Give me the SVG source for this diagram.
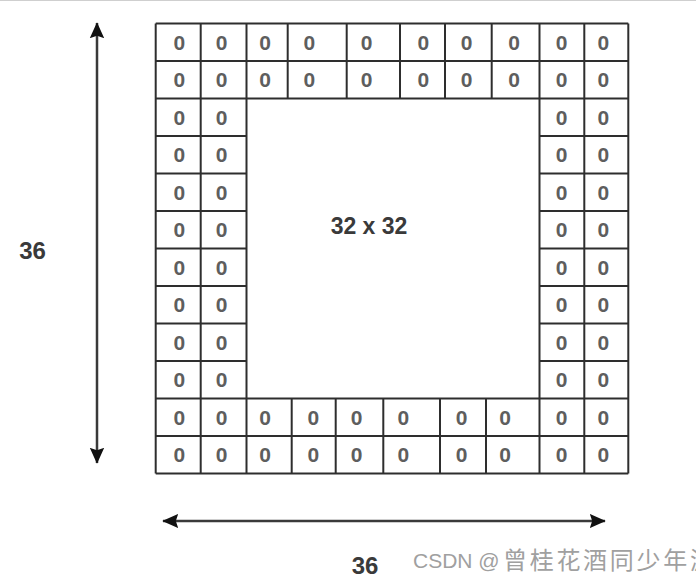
<svg xmlns="http://www.w3.org/2000/svg" width="696" height="581" viewBox="0 0 696 581">
  <defs>
    <marker id="ah" viewBox="0 0 10 10" refX="9.5" refY="5" markerWidth="16" markerHeight="16" markerUnits="userSpaceOnUse" orient="auto-start-reverse">
      <path d="M0,0.5 L10,5 L0,9.5 L1.5,5 Z" fill="#111"/>
    </marker>
    <style>
      .grid { fill: none; stroke: #2e2e2e; stroke-width: 2; }
      .z { font-family: "Liberation Sans", Arial, sans-serif; font-size: 21px; font-weight: bold; fill: #5e5e5e; text-anchor: middle; }
      .lbl { font-family: "Liberation Sans", Arial, sans-serif; font-weight: bold; fill: #3a3a3a; text-anchor: middle; }
      .arrow { stroke: #3a3a3a; stroke-width: 2.5; fill: none; }
      .wm { font-family: "Liberation Sans", "Noto Sans CJK SC", sans-serif; fill: #a0a0a0; }
    </style>
  </defs>
  <rect x="0" y="0" width="696" height="581" fill="#ffffff"/>
  <line x1="0" y1="0.5" x2="696" y2="0.5" stroke="#cfcfcf" stroke-width="1"/>

  <g id="grid">
    <path class="grid" d="
      M155.7,23.5 H628.3 M155.7,61 H628.3 M155.7,98.5 H628.3
      M155.7,398.5 H628.3 M155.7,436 H628.3 M155.7,473.5 H628.3
      M155.7,136 H246.5 M155.7,173.5 H246.5 M155.7,211 H246.5 M155.7,248.5 H246.5 M155.7,286 H246.5 M155.7,323.5 H246.5 M155.7,361 H246.5
      M539.5,136 H628.3 M539.5,173.5 H628.3 M539.5,211 H628.3 M539.5,248.5 H628.3 M539.5,286 H628.3 M539.5,323.5 H628.3 M539.5,361 H628.3
      M155.7,23.5 V473.5 M200.7,23.5 V473.5 M246.5,23.5 V473.5 M539.5,23.5 V473.5 M584.3,23.5 V473.5 M628.3,23.5 V473.5
      M287.7,23.5 V98.5 M346.7,23.5 V98.5 M400,23.5 V98.5 M445,23.5 V98.5 M491.7,23.5 V98.5
      M291.7,398.5 V473.5 M335.7,398.5 V473.5 M383.3,398.5 V473.5 M440,398.5 V473.5 M486,398.5 V473.5"/>
  </g>

  <g id="zeros-top">
    <text class="z" x="179.3" y="49.5">0</text><text class="z" x="221.7" y="49.5">0</text><text class="z" x="265" y="49.5">0</text><text class="z" x="309.3" y="49.5">0</text><text class="z" x="366.7" y="49.5">0</text><text class="z" x="423.3" y="49.5">0</text><text class="z" x="466.7" y="49.5">0</text><text class="z" x="514" y="49.5">0</text><text class="z" x="561.7" y="49.5">0</text><text class="z" x="603.3" y="49.5">0</text>
    <text class="z" x="179.3" y="87">0</text><text class="z" x="221.7" y="87">0</text><text class="z" x="265" y="87">0</text><text class="z" x="309.3" y="87">0</text><text class="z" x="366.7" y="87">0</text><text class="z" x="423.3" y="87">0</text><text class="z" x="466.7" y="87">0</text><text class="z" x="514" y="87">0</text><text class="z" x="561.7" y="87">0</text><text class="z" x="603.3" y="87">0</text>
  </g>

  <g id="zeros-left">
    <text class="z" x="179.3" y="124.5">0</text><text class="z" x="221.7" y="124.5">0</text>
    <text class="z" x="179.3" y="162">0</text><text class="z" x="221.7" y="162">0</text>
    <text class="z" x="179.3" y="199.5">0</text><text class="z" x="221.7" y="199.5">0</text>
    <text class="z" x="179.3" y="237">0</text><text class="z" x="221.7" y="237">0</text>
    <text class="z" x="179.3" y="274.5">0</text><text class="z" x="221.7" y="274.5">0</text>
    <text class="z" x="179.3" y="312">0</text><text class="z" x="221.7" y="312">0</text>
    <text class="z" x="179.3" y="349.5">0</text><text class="z" x="221.7" y="349.5">0</text>
    <text class="z" x="179.3" y="387">0</text><text class="z" x="221.7" y="387">0</text>
  </g>

  <g id="zeros-right">
    <text class="z" x="561.7" y="124.5">0</text><text class="z" x="603.3" y="124.5">0</text>
    <text class="z" x="561.7" y="162">0</text><text class="z" x="603.3" y="162">0</text>
    <text class="z" x="561.7" y="199.5">0</text><text class="z" x="603.3" y="199.5">0</text>
    <text class="z" x="561.7" y="237">0</text><text class="z" x="603.3" y="237">0</text>
    <text class="z" x="561.7" y="274.5">0</text><text class="z" x="603.3" y="274.5">0</text>
    <text class="z" x="561.7" y="312">0</text><text class="z" x="603.3" y="312">0</text>
    <text class="z" x="561.7" y="349.5">0</text><text class="z" x="603.3" y="349.5">0</text>
    <text class="z" x="561.7" y="387">0</text><text class="z" x="603.3" y="387">0</text>
  </g>

  <g id="zeros-bottom">
    <text class="z" x="179.3" y="424.5">0</text><text class="z" x="221.7" y="424.5">0</text><text class="z" x="265" y="424.5">0</text><text class="z" x="313.3" y="424.5">0</text><text class="z" x="356.7" y="424.5">0</text><text class="z" x="403.3" y="424.5">0</text><text class="z" x="461.7" y="424.5">0</text><text class="z" x="505" y="424.5">0</text><text class="z" x="561.7" y="424.5">0</text><text class="z" x="603.3" y="424.5">0</text>
    <text class="z" x="179.3" y="462">0</text><text class="z" x="221.7" y="462">0</text><text class="z" x="265" y="462">0</text><text class="z" x="313.3" y="462">0</text><text class="z" x="356.7" y="462">0</text><text class="z" x="403.3" y="462">0</text><text class="z" x="461.7" y="462">0</text><text class="z" x="505" y="462">0</text><text class="z" x="561.7" y="462">0</text><text class="z" x="603.3" y="462">0</text>
  </g>

  <g id="center-label">
    <text class="lbl" x="369" y="234" font-size="23">32 x 32</text>
  </g>

  <g id="connectors">
    <line class="arrow" x1="97" y1="463" x2="97" y2="23" marker-start="url(#ah)" marker-end="url(#ah)"/>
    <line class="arrow" x1="163" y1="521" x2="605" y2="521" marker-start="url(#ah)" marker-end="url(#ah)"/>
  </g>

  <g id="dim-labels">
    <text class="lbl" x="32.5" y="259" font-size="24">36</text>
    <text class="lbl" x="365" y="574" font-size="24">36</text>
  </g>

  <g id="watermark">
    <text class="wm" x="413" y="568" font-size="21">CSDN @</text>
    <text class="wm" x="503" y="569" font-size="24" letter-spacing="2.7">曾桂花酒同少年游</text>
  </g>
</svg>
